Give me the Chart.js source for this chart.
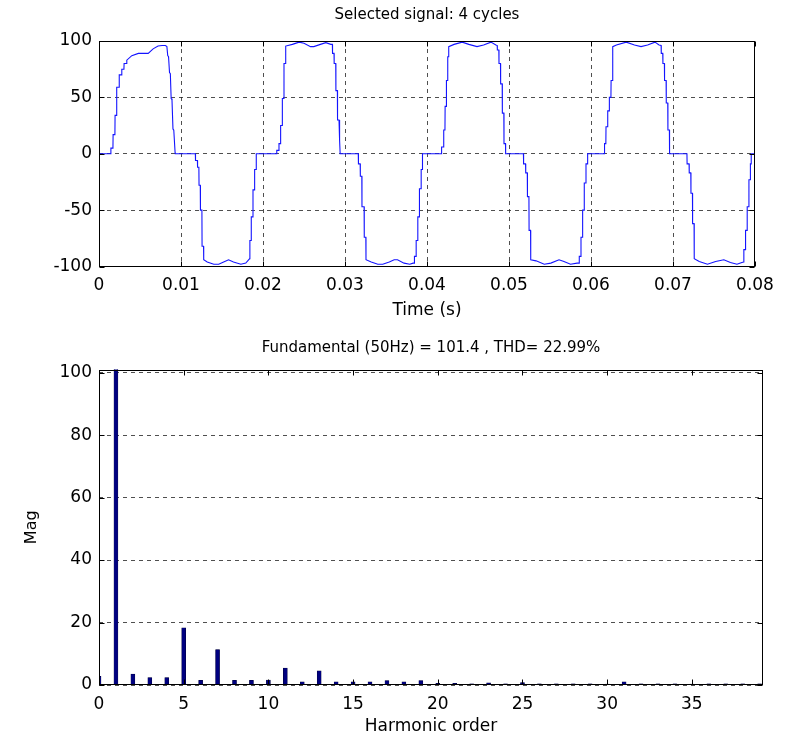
<!DOCTYPE html>
<html lang="en">
<head>
    <meta charset="UTF-8">
    <title>Selected signal and FFT analysis</title>
    <script src="https://cdn.jsdelivr.net/npm/chart.js"></script>
    <style>
        body { margin: 0; background: #fff; }
        #wrap { position: relative; width: 785px; height: 742px; }
        .box { position: absolute; left: 0; width: 785px; }
        #topBox { top: 0; height: 325px; }
        #bottomBox { top: 325px; height: 417px; }
    </style>
</head>
<body>
    <div id="wrap">
        <div class="box" id="topBox"><canvas id="signalChart"></canvas></div>
        <div class="box" id="bottomBox"><canvas id="fftChart"></canvas></div>
    </div>

    <script>
        // Selected signal (time in s, value)
        const cycle1Time = [0, 0.00143, 0.00145, 0.00170, 0.00172, 0.00194, 0.00196, 0.00214, 0.00216, 0.00245, 0.00247, 0.00276, 0.00278, 0.00304, 0.00306, 0.00337, 0.00339, 0.0040, 0.0048, 0.0060, 0.0066, 0.0072, 0.0077, 0.0081, 0.00828, 0.00838, 0.00848, 0.00860, 0.00870, 0.00880, 0.00890, 0.00902, 0.00912, 0.00928, 0.00930,
                            0.01175, 0.01177, 0.01200, 0.01202, 0.01218, 0.01220, 0.01235, 0.01237, 0.01255, 0.01257, 0.01275, 0.01277, 0.0132, 0.0140, 0.0146, 0.0152, 0.0158, 0.0164, 0.0173, 0.0179, 0.01838, 0.01840, 0.01855, 0.01857, 0.01876, 0.01878, 0.01896, 0.01898, 0.01916, 0.01918];
        const cycle1Value = [0, 0, 5, 5, 17, 17, 34, 34, 59, 59, 70, 70, 75, 75, 80, 80, 83, 87, 89, 89, 93, 95.5, 96, 96, 95, 87, 86, 72, 71, 49, 48, 22, 21, 1, 0,
                             0, -6, -6, -12, -12, -28, -28, -50, -50, -82, -82, -94, -96, -98, -98, -96, -94, -96, -98, -97, -93, -77, -77, -56, -56, -32, -32, -14, -14, 0];

        const cycle2Time = [0.02166, 0.02168, 0.02193, 0.02195, 0.02213, 0.02215, 0.02234, 0.02236, 0.02254, 0.02256, 0.02275, 0.02277, 0.02358, 0.0244, 0.0250, 0.0258, 0.0262, 0.0270, 0.02766, 0.02827, 0.02846, 0.02848, 0.02866, 0.02868, 0.02887, 0.02889, 0.02907, 0.02909, 0.02927, 0.02929, 0.02939, 0.02941,
                            0.03162, 0.03164, 0.03185, 0.03187, 0.03205, 0.03207, 0.03233, 0.03235, 0.03254, 0.03256, 0.0332, 0.0340, 0.0346, 0.0354, 0.0360, 0.0364, 0.0372, 0.0379, 0.0383, 0.03845, 0.03847, 0.03866, 0.03868, 0.03886, 0.03888, 0.03906, 0.03908, 0.03927, 0.03929, 0.03943, 0.03945];
        const cycle2Value = [0, 3, 3, 9, 9, 25, 25, 49, 49, 80, 80, 95.5, 97, 99, 98, 95, 95, 97, 98.5, 97, 97, 89, 89, 80, 80, 56, 56, 30, 30, 12, 12, 0,
                             0, -9, -9, -20, -20, -47, -47, -74, -74, -94, -96, -98, -98, -96, -94, -94, -97, -98, -97, -97, -91, -91, -77, -77, -56, -56, -31, -31, -14, -14, 0];

        const cycle3Time = [0.04176, 0.04178, 0.04202, 0.04204, 0.04219, 0.04221, 0.04235, 0.04237, 0.04251, 0.04253, 0.04263, 0.04265, 0.0433, 0.0443, 0.0451, 0.0461, 0.0469, 0.0478, 0.0484, 0.04856, 0.04858, 0.04876, 0.04878, 0.04896, 0.04898, 0.04917, 0.04919, 0.04937, 0.04939, 0.04957, 0.04959,
                            0.05176, 0.05178, 0.05202, 0.05204, 0.05223, 0.05225, 0.05243, 0.05245, 0.05263, 0.05265, 0.0533, 0.0543, 0.0551, 0.0561, 0.0567, 0.0575, 0.0583, 0.05855, 0.05857, 0.05876, 0.05878, 0.05896, 0.05898, 0.05916, 0.05918, 0.05937, 0.05939, 0.05957, 0.05959];
        const cycle3Value = [0, 6, 6, 21, 21, 42, 42, 65, 65, 86, 86, 95, 97, 99, 97, 95, 96.5, 99, 96.5, 96, 92, 92, 80, 80, 62, 62, 36, 36, 9, 9, 0,
                             0, -9, -9, -17, -17, -38, -38, -68, -68, -94, -95, -98, -97, -94, -95.5, -98, -97, -97, -91, -91, -74, -74, -50, -50, -26, -26, -9, -9, 0];

        const cycle4Time = [0.06163, 0.06165, 0.06181, 0.06183, 0.06202, 0.06204, 0.06222, 0.06224, 0.06243, 0.06245, 0.06263, 0.06265, 0.0631, 0.0643, 0.0653, 0.0661, 0.0669, 0.0678, 0.0683, 0.06855, 0.06857, 0.06875, 0.06877, 0.06895, 0.06897, 0.06916, 0.06918, 0.06936, 0.06938, 0.06956, 0.06958,
                            0.07170, 0.07172, 0.07196, 0.07198, 0.07217, 0.07219, 0.07237, 0.07239, 0.07257, 0.07259, 0.0732, 0.0742, 0.0752, 0.0762, 0.0770, 0.0778, 0.0784, 0.07862, 0.07864, 0.07883, 0.07885, 0.07903, 0.07905, 0.07924, 0.07926, 0.07942, 0.07944, 0.07952, 0.07954, 0.0800];
        const cycle4Value = [0, 9, 9, 24, 24, 38, 38, 50, 50, 65, 65, 95, 96.5, 99, 96.5, 95, 96.5, 99, 96.5, 96, 89, 89, 80, 80, 65, 65, 45, 45, 21, 21, 0,
                             0, -9, -9, -17, -17, -35, -35, -62, -62, -93, -95.5, -98, -95.5, -94, -96.5, -98, -96.5, -96, -85, -85, -68, -68, -47, -47, -23, -23, -9, -9, 0, 0];

        const timeTicks = [0, 0.01, 0.02, 0.03, 0.04, 0.05, 0.06, 0.07, 0.08];

        // FFT analysis: harmonic order and magnitude
        const harmonicOrder = [0, 1, 2, 3, 4, 5, 6, 7, 8, 9, 10, 11, 12, 13, 14, 15, 16, 17, 18, 19,
                               20, 21, 22, 23, 24, 25, 26, 27, 28, 29, 30, 31, 32, 33, 34, 35, 36, 37, 38, 39];
        const harmonicMag = [2.8, 101.4, 3.5, 2.4, 2.4, 18.3, 1.5, 11.3, 1.5, 1.5, 1.6, 5.4, 1.0, 4.5, 1.0, 1.0, 1.0, 1.4, 1.0, 1.4,
                             0.5, 0.5, 0.4, 0.7, 0.4, 0.8, 0.4, 0.4, 0.4, 0.4, 0.3, 1.0, 0.4, 0.4, 0.4, 0.3, 0.4, 0.4, 0.4, 0.4];

        const signalTime = [].concat(cycle1Time, cycle2Time, cycle3Time, cycle4Time);
        const signalValue = [].concat(cycle1Value, cycle2Value, cycle3Value, cycle4Value);

        Chart.defaults.font.family = '"DejaVu Sans", sans-serif';
        Chart.defaults.color = '#000';
        Chart.defaults.animation = false;

        // grid line colour, hidden on the right edge where the frame already sits
        function gridColor(ctx) {
            const s = ctx.scale;
            if (ctx.tick && s && Math.abs(ctx.tick.value - s.max) < 1e-9) return 'rgba(0,0,0,0)';
            return '#222';
        }

        // box around the plot area plus small inward tick marks, matlab style
        const framePlugin = {
            id: 'frame',
            afterDatasetsDraw(chart) {
                const { ctx, chartArea: a, scales } = chart;
                const l = Math.round(a.left) + 0.5, r = Math.round(a.right) - 0.5;
                const t = Math.round(a.top) + 0.5, b = Math.round(a.bottom) - 0.5;
                ctx.save();
                ctx.strokeStyle = '#000';
                ctx.lineWidth = 1;
                ctx.beginPath();
                scales.x.ticks.forEach(tk => {
                    const px = Math.round(scales.x.getPixelForValue(tk.value)) + 0.5;
                    ctx.moveTo(px, b); ctx.lineTo(px, b - 5);
                    ctx.moveTo(px, t); ctx.lineTo(px, t + 5);
                });
                scales.y.ticks.forEach(tk => {
                    const py = Math.round(scales.y.getPixelForValue(tk.value)) + 0.5;
                    ctx.moveTo(l, py); ctx.lineTo(l + 5, py);
                    ctx.moveTo(r, py); ctx.lineTo(r - 5, py);
                });
                ctx.stroke();
                ctx.strokeRect(l, t, r - l, b - t);
                ctx.restore();
            }
        };

        new Chart(document.getElementById('signalChart'), {
            type: 'line',
            data: {
                datasets: [{
                    data: signalTime.map((t, i) => ({ x: t, y: signalValue[i] })),
                    borderColor: 'rgb(20, 20, 255)',
                    borderWidth: 1.1,
                    pointRadius: 0,
                    tension: 0
                }]
            },
            options: {
                responsive: true,
                maintainAspectRatio: false,
                layout: { padding: { left: 0, right: 30, top: 0, bottom: 0 } },
                plugins: {
                    legend: { display: false },
                    tooltip: { enabled: false },
                    title: {
                        display: true,
                        fullSize: false,
                        text: 'Selected signal: 4 cycles',
                        font: { size: 15, weight: 'normal' },
                        color: '#000',
                        padding: { top: 6, bottom: 17 }
                    }
                },
                scales: {
                    x: {
                        type: 'linear',
                        min: 0,
                        max: 0.08,
                        afterBuildTicks: s => { s.ticks = timeTicks.map(v => ({ value: v })); },
                        afterFit: s => { s.height = 58.5; },
                        ticks: {
                            font: { size: 17 },
                            padding: 9,
                            maxRotation: 0,
                            autoSkip: false,
                            callback: v => String(Number(v.toFixed(2)))
                        },
                        grid: { color: gridColor, lineWidth: 0.8, drawTicks: false },
                        border: { display: false, dash: [4, 4] },
                        title: { display: true, text: 'Time (s)', font: { size: 17 }, padding: { top: 0, bottom: 4 } }
                    },
                    y: {
                        min: -100,
                        max: 100,
                        afterFit: s => { s.width = 99; },
                        ticks: { stepSize: 50, font: { size: 17 }, padding: 7 },
                        grid: { color: '#222', lineWidth: 0.8, drawTicks: false },
                        border: { display: false, dash: [4, 4] }
                    }
                }
            },
            plugins: [framePlugin]
        });

        new Chart(document.getElementById('fftChart'), {
            type: 'bar',
            data: {
                datasets: [{
                    data: harmonicOrder.map((h, i) => ({ x: h, y: harmonicMag[i] })),
                    backgroundColor: '#000080',
                    borderColor: '#000033',
                    borderWidth: 0.5,
                    barThickness: 4
                }]
            },
            options: {
                responsive: true,
                maintainAspectRatio: false,
                layout: { padding: { left: 0, right: 22, top: 0, bottom: 0 } },
                plugins: {
                    legend: { display: false },
                    tooltip: { enabled: false },
                    title: {
                        display: true,
                        fullSize: false,
                        text: 'Fundamental (50Hz) = 101.4 , THD= 22.99%',
                        font: { size: 15, weight: 'normal' },
                        color: '#000',
                        padding: { top: 14, bottom: 12.5 }
                    }
                },
                scales: {
                    x: {
                        type: 'linear',
                        min: 0,
                        max: 39.2,
                        offset: false,
                        afterFit: s => { s.height = 57; },
                        ticks: { stepSize: 5, includeBounds: false, font: { size: 17 }, padding: 9, maxRotation: 0 },
                        grid: { display: false, offset: false, drawTicks: false },
                        border: { display: false },
                        title: { display: true, text: 'Harmonic order', font: { size: 17 }, padding: { top: 0, bottom: 5 } }
                    },
                    y: {
                        min: 0,
                        max: 101,
                        afterFit: s => { s.width = 99; },
                        ticks: { stepSize: 20, includeBounds: false, font: { size: 17 }, padding: 7 },
                        grid: { color: '#222', lineWidth: 0.8, drawTicks: false },
                        border: { display: false, dash: [4, 4] },
                        title: { display: true, text: 'Mag', font: { size: 16 }, padding: { top: 22, bottom: 0 } }
                    }
                }
            },
            plugins: [framePlugin]
        });
    </script>
</body>
</html>
